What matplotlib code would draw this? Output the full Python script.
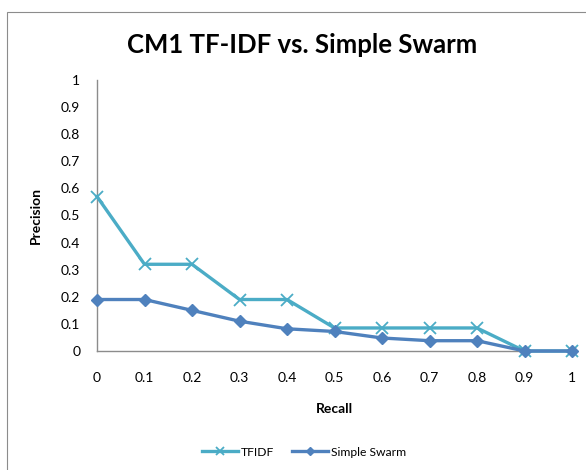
import matplotlib
matplotlib.use("Agg")
import matplotlib.pyplot as plt
from matplotlib.patches import Rectangle

recall = [0, 0.1, 0.2, 0.3, 0.4, 0.5, 0.6, 0.7, 0.8, 0.9, 1.0]
tfidf = [0.57, 0.32, 0.32, 0.19, 0.19, 0.085, 0.085, 0.085, 0.085, 0, 0]
swarm = [0.19, 0.19, 0.15, 0.11, 0.082, 0.072, 0.048, 0.038, 0.038, 0, 0]
xtick_labels = ["0", "0.1", "0.2", "0.3", "0.4", "0.5", "0.6", "0.7", "0.8", "0.9", "1"]
ytick_labels = ["0", "0.1", "0.2", "0.3", "0.4", "0.5", "0.6", "0.7", "0.8", "0.9", "1"]

plt.rcParams['font.family'] = ['Lato', 'DejaVu Sans']

fig = plt.figure(figsize=(5.86, 4.70), dpi=100)
fig.patch.set_facecolor('white')
fig.add_artist(Rectangle((7/586, -0.05), 1.2, 1 - 12/470 + 0.05, transform=fig.transFigure,
                         fill=False, edgecolor='#8c8c8c', linewidth=0.8))
ax = fig.add_axes([97/586, 1 - 351/470, (572 - 97)/586, (351 - 80)/470])

ax.plot(recall, tfidf, color='#4BACC6', lw=2.4, marker='x', markersize=8, mew=1.3,
        clip_on=False, label='TFIDF', zorder=3)
ax.plot(recall, swarm, color='#4F81BD', lw=2.4, marker='D', markersize=6.5,
        clip_on=False, label='Simple Swarm', zorder=4)

ax.set_xlim(0, 1)
ax.set_ylim(0, 1)
yt = [i / 10 for i in range(11)]
ax.set_yticks(yt)
ax.set_yticklabels(ytick_labels)
ax.set_xticks(recall)
ax.set_xticklabels(xtick_labels)
for s in ['top', 'right']:
    ax.spines[s].set_visible(False)
for s in ['left', 'bottom']:
    ax.spines[s].set_color('#8c8c8c')
    ax.spines[s].set_linewidth(1.0)
ax.tick_params(axis='y', length=0, labelsize=10, pad=12)
ax.tick_params(axis='x', length=0, labelsize=10, pad=15)

ax.set_xlabel('Recall', fontsize=10, fontweight='bold', labelpad=14)
ax.set_ylabel('Precision', fontsize=10, fontweight='bold', labelpad=14)
fig.text(302/586, 1 - 45/470, 'CM1 TF-IDF vs. Simple Swarm', ha='center', va='center',
         fontsize=18.5, fontweight='bold')
fig.legend(loc='center', bbox_to_anchor=(304/586, 1 - 452/470), ncol=2, frameon=False,
           fontsize=8.7, handlelength=3.0, columnspacing=1.5, handletextpad=0.2,
           markerscale=0.7)

fig.savefig('out.png', dpi=100)
